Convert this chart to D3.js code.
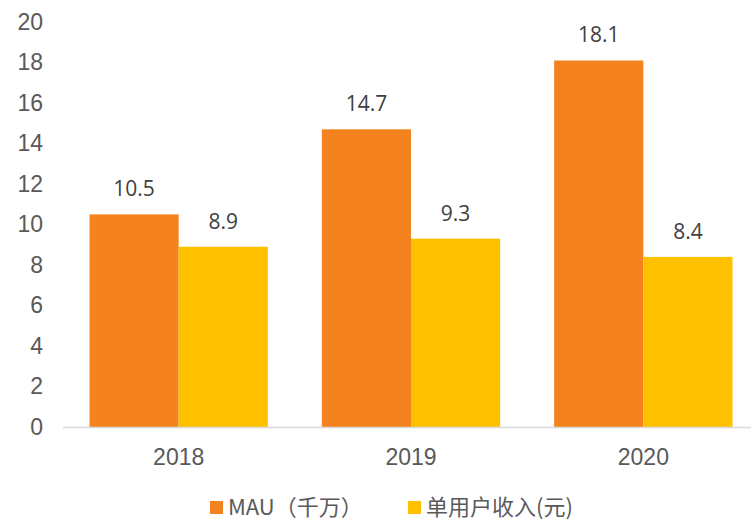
<!DOCTYPE html>
<html>
<head>
<meta charset="utf-8">
<script src="https://cdn.jsdelivr.net/npm/d3@7"></script>
<style>
  body { margin: 0; background: #fff; }
  .tick-label { font-family: "Liberation Sans", Arial, sans-serif; font-size: 23px; fill: #595959; }
  .value-label { font-family: "Open Sans", sans-serif; font-size: 21px; fill: #404040; }
  .legend-label { font-family: "Noto Sans CJK SC", sans-serif; font-size: 22px; fill: #595959; }
</style>
</head>
<body>
<svg id="chart" width="751" height="520"></svg>
<script>
var years = ["2018", "2019", "2020"];
var series = ["MAU（千万）", "单用户收入(元)"];
var mau = [10.5, 14.7, 18.1];
var arpu = [8.9, 9.3, 8.4];
var y_ticks = [0, 2, 4, 6, 8, 10, 12, 14, 16, 18, 20];
var colors = ["#F4831F", "#FFC000"];

// plot area
var left = 62.5;
var right = 759.5;
var top_y = 22;
var base_y = 427;
var group_gap = 54;

var svg = d3.select("#chart");

var x0 = d3.scaleBand()
    .domain(years)
    .range([left, right]);
var x1 = d3.scaleBand()
    .domain(series)
    .range([group_gap / 2, x0.bandwidth() - group_gap / 2]);
var y = d3.scaleLinear()
    .domain([0, 20])
    .range([base_y, top_y]);

// y axis labels only
var yAxis = svg.append("g")
    .attr("transform", "translate(43, 0)")
    .call(d3.axisLeft(y).tickValues(y_ticks).tickSize(0).tickPadding(0));
yAxis.select(".domain").remove();
yAxis.selectAll("text").attr("class", "tick-label").attr("fill", null);

// bars
var rows = years.map((yr, i) => ({year: yr, values: [mau[i], arpu[i]]}));
var groups = svg.selectAll(".bar-group")
    .data(rows)
    .enter()
    .append("g")
    .attr("class", "bar-group")
    .attr("transform", d => "translate(" + x0(d.year) + ", 0)");

groups.selectAll("rect")
    .data(d => d.values.map((v, j) => ({key: series[j], value: v, idx: j})))
    .enter()
    .append("rect")
    .attr("x", d => x1(d.key))
    .attr("y", d => y(d.value))
    .attr("width", x1.bandwidth())
    .attr("height", d => base_y - y(d.value))
    .attr("fill", d => colors[d.idx]);

groups.selectAll(".value-label")
    .data(d => d.values.map((v, j) => ({key: series[j], value: v})))
    .enter()
    .append("text")
    .attr("class", "value-label")
    .attr("text-anchor", "middle")
    .attr("x", d => x1(d.key) + x1.bandwidth() / 2)
    .attr("y", d => y(d.value) - 18)
    .text(d => d.value.toFixed(1));

// x axis
var xAxis = svg.append("g")
    .attr("transform", "translate(0, " + base_y + ")")
    .call(d3.axisBottom(x0).tickSize(0).tickPadding(22).tickSizeOuter(0));
xAxis.select(".domain").attr("stroke", "#d9d9d9").attr("stroke-width", 1.5);
xAxis.selectAll("text").attr("class", "tick-label").attr("fill", null);

// legend
var legend_x = [210, 408];
var legend = svg.append("g").attr("class", "legend");
var items = legend.selectAll("g")
    .data(series)
    .enter()
    .append("g")
    .attr("transform", (d, i) => "translate(" + legend_x[i] + ", 501)");
items.append("rect")
    .attr("width", 13)
    .attr("height", 13)
    .attr("fill", (d, i) => colors[i]);
items.append("text")
    .attr("class", "legend-label")
    .attr("x", 18)
    .attr("y", 14)
    .text(d => d);
</script>
</body>
</html>
